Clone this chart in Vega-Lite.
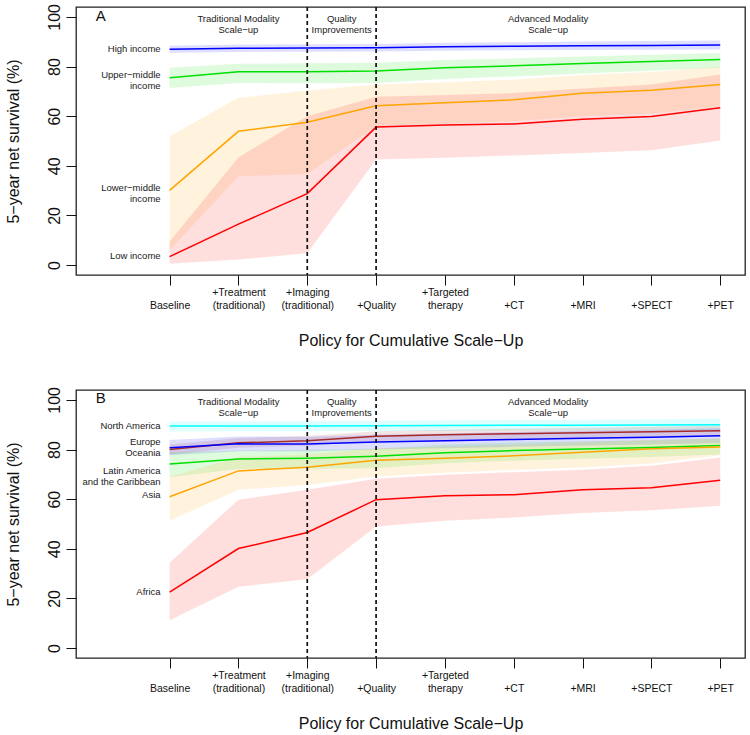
{
  "$schema": "https://vega.github.io/schema/vega-lite/v6.json",
  "padding": {"left": 4, "top": 2, "right": 3, "bottom": 5},
  "config": {
    "font": "Liberation Sans",
    "view": {"stroke": "#222222", "strokeWidth": 1.3},
    "axis": {"grid": false, "domain": false, "tickColor": "#111111", "labelColor": "#111111", "titleColor": "#111111", "titleFontWeight": "normal", "labelFont": "Liberation Sans", "titleFont": "Liberation Sans"}
  },
  "spacing": 115,
  "bounds": "flush",
  "resolve": {"scale": {"color": "independent", "x": "independent", "y": "independent"}},
  "datasets": {
    "bandA": [
      {"g": "High income", "x": 1, "y": 85.6, "y2": 88.4},
      {"g": "High income", "x": 2, "y": 85.9, "y2": 88.9},
      {"g": "High income", "x": 3, "y": 86.0, "y2": 89.0},
      {"g": "High income", "x": 4, "y": 86.1, "y2": 89.1},
      {"g": "High income", "x": 5, "y": 86.4, "y2": 89.6},
      {"g": "High income", "x": 6, "y": 86.6, "y2": 89.8},
      {"g": "High income", "x": 7, "y": 86.7, "y2": 90.1},
      {"g": "High income", "x": 8, "y": 86.8, "y2": 90.3},
      {"g": "High income", "x": 9, "y": 86.9, "y2": 90.5},
      {"g": "Upper-middle income", "x": 1, "y": 71.4, "y2": 79.5},
      {"g": "Upper-middle income", "x": 2, "y": 73.4, "y2": 81.1},
      {"g": "Upper-middle income", "x": 3, "y": 73.3, "y2": 81.3},
      {"g": "Upper-middle income", "x": 4, "y": 73.4, "y2": 81.5},
      {"g": "Upper-middle income", "x": 5, "y": 75.0, "y2": 82.6},
      {"g": "Upper-middle income", "x": 6, "y": 76.0, "y2": 83.3},
      {"g": "Upper-middle income", "x": 7, "y": 77.2, "y2": 84.1},
      {"g": "Upper-middle income", "x": 8, "y": 78.3, "y2": 84.8},
      {"g": "Upper-middle income", "x": 9, "y": 79.5, "y2": 85.5},
      {"g": "Lower-middle income", "x": 1, "y": 6.0, "y2": 51.9},
      {"g": "Lower-middle income", "x": 2, "y": 35.8, "y2": 67.4},
      {"g": "Lower-middle income", "x": 3, "y": 36.7, "y2": 70.4},
      {"g": "Lower-middle income", "x": 4, "y": 56.0, "y2": 72.8},
      {"g": "Lower-middle income", "x": 5, "y": 57.0, "y2": 73.7},
      {"g": "Lower-middle income", "x": 6, "y": 58.0, "y2": 74.7},
      {"g": "Lower-middle income", "x": 7, "y": 60.0, "y2": 76.6},
      {"g": "Lower-middle income", "x": 8, "y": 61.0, "y2": 77.8},
      {"g": "Lower-middle income", "x": 9, "y": 64.0, "y2": 79.9},
      {"g": "Low income", "x": 1, "y": 0.5, "y2": 9.5},
      {"g": "Low income", "x": 2, "y": 2.2, "y2": 43.4},
      {"g": "Low income", "x": 3, "y": 4.8, "y2": 60.0},
      {"g": "Low income", "x": 4, "y": 42.5, "y2": 67.8},
      {"g": "Low income", "x": 5, "y": 43.2, "y2": 68.5},
      {"g": "Low income", "x": 6, "y": 44.2, "y2": 69.3},
      {"g": "Low income", "x": 7, "y": 45.2, "y2": 71.2},
      {"g": "Low income", "x": 8, "y": 46.3, "y2": 72.8},
      {"g": "Low income", "x": 9, "y": 50.2, "y2": 76.8}
    ],
    "lineA": [
      {"g": "High income", "x": 1, "y": 87.0},
      {"g": "High income", "x": 2, "y": 87.4},
      {"g": "High income", "x": 3, "y": 87.5},
      {"g": "High income", "x": 4, "y": 87.6},
      {"g": "High income", "x": 5, "y": 88.0},
      {"g": "High income", "x": 6, "y": 88.2},
      {"g": "High income", "x": 7, "y": 88.4},
      {"g": "High income", "x": 8, "y": 88.5},
      {"g": "High income", "x": 9, "y": 88.7},
      {"g": "Upper-middle income", "x": 1, "y": 75.5},
      {"g": "Upper-middle income", "x": 2, "y": 77.9},
      {"g": "Upper-middle income", "x": 3, "y": 77.9},
      {"g": "Upper-middle income", "x": 4, "y": 78.2},
      {"g": "Upper-middle income", "x": 5, "y": 79.5},
      {"g": "Upper-middle income", "x": 6, "y": 80.3},
      {"g": "Upper-middle income", "x": 7, "y": 81.2},
      {"g": "Upper-middle income", "x": 8, "y": 82.0},
      {"g": "Upper-middle income", "x": 9, "y": 82.8},
      {"g": "Lower-middle income", "x": 1, "y": 30.1},
      {"g": "Lower-middle income", "x": 2, "y": 53.9},
      {"g": "Lower-middle income", "x": 3, "y": 57.6},
      {"g": "Lower-middle income", "x": 4, "y": 64.2},
      {"g": "Lower-middle income", "x": 5, "y": 65.4},
      {"g": "Lower-middle income", "x": 6, "y": 66.6},
      {"g": "Lower-middle income", "x": 7, "y": 69.2},
      {"g": "Lower-middle income", "x": 8, "y": 70.5},
      {"g": "Lower-middle income", "x": 9, "y": 72.8},
      {"g": "Low income", "x": 1, "y": 3.4},
      {"g": "Low income", "x": 2, "y": 16.5},
      {"g": "Low income", "x": 3, "y": 28.8},
      {"g": "Low income", "x": 4, "y": 55.6},
      {"g": "Low income", "x": 5, "y": 56.4},
      {"g": "Low income", "x": 6, "y": 56.9},
      {"g": "Low income", "x": 7, "y": 58.8},
      {"g": "Low income", "x": 8, "y": 59.9},
      {"g": "Low income", "x": 9, "y": 63.4}
    ],
    "bandB": [
      {"g": "North America", "x": 1, "y": 87.3, "y2": 91.3},
      {"g": "North America", "x": 2, "y": 87.4, "y2": 91.4},
      {"g": "North America", "x": 3, "y": 87.4, "y2": 91.5},
      {"g": "North America", "x": 4, "y": 87.5, "y2": 91.6},
      {"g": "North America", "x": 5, "y": 87.5, "y2": 91.8},
      {"g": "North America", "x": 6, "y": 87.6, "y2": 91.9},
      {"g": "North America", "x": 7, "y": 87.6, "y2": 92.0},
      {"g": "North America", "x": 8, "y": 87.7, "y2": 92.2},
      {"g": "North America", "x": 9, "y": 87.7, "y2": 92.4},
      {"g": "Europe", "x": 1, "y": 78.0, "y2": 82.0},
      {"g": "Europe", "x": 2, "y": 80.7, "y2": 84.7},
      {"g": "Europe", "x": 3, "y": 81.5, "y2": 85.5},
      {"g": "Europe", "x": 4, "y": 83.4, "y2": 87.4},
      {"g": "Europe", "x": 5, "y": 84.0, "y2": 88.0},
      {"g": "Europe", "x": 6, "y": 84.4, "y2": 88.4},
      {"g": "Europe", "x": 7, "y": 84.8, "y2": 88.8},
      {"g": "Europe", "x": 8, "y": 85.2, "y2": 89.2},
      {"g": "Europe", "x": 9, "y": 85.6, "y2": 89.6},
      {"g": "Oceania", "x": 1, "y": 77.7, "y2": 83.9},
      {"g": "Oceania", "x": 2, "y": 79.3, "y2": 85.3},
      {"g": "Oceania", "x": 3, "y": 79.2, "y2": 85.2},
      {"g": "Oceania", "x": 4, "y": 80.0, "y2": 86.0},
      {"g": "Oceania", "x": 5, "y": 80.5, "y2": 86.5},
      {"g": "Oceania", "x": 6, "y": 81.1, "y2": 87.1},
      {"g": "Oceania", "x": 7, "y": 81.6, "y2": 87.6},
      {"g": "Oceania", "x": 8, "y": 82.0, "y2": 88.0},
      {"g": "Oceania", "x": 9, "y": 82.6, "y2": 88.6},
      {"g": "Latin America", "x": 1, "y": 68.8, "y2": 78.9},
      {"g": "Latin America", "x": 2, "y": 72.2, "y2": 79.6},
      {"g": "Latin America", "x": 3, "y": 72.3, "y2": 79.9},
      {"g": "Latin America", "x": 4, "y": 72.5, "y2": 80.3},
      {"g": "Latin America", "x": 5, "y": 74.5, "y2": 82.0},
      {"g": "Latin America", "x": 6, "y": 75.5, "y2": 82.8},
      {"g": "Latin America", "x": 7, "y": 76.3, "y2": 83.3},
      {"g": "Latin America", "x": 8, "y": 77.0, "y2": 83.8},
      {"g": "Latin America", "x": 9, "y": 78.0, "y2": 84.5},
      {"g": "Asia", "x": 1, "y": 51.3, "y2": 69.0},
      {"g": "Asia", "x": 2, "y": 63.8, "y2": 77.0},
      {"g": "Asia", "x": 3, "y": 65.7, "y2": 78.0},
      {"g": "Asia", "x": 4, "y": 69.1, "y2": 80.5},
      {"g": "Asia", "x": 5, "y": 70.7, "y2": 81.2},
      {"g": "Asia", "x": 6, "y": 71.8, "y2": 82.0},
      {"g": "Asia", "x": 7, "y": 72.8, "y2": 83.0},
      {"g": "Asia", "x": 8, "y": 74.4, "y2": 84.0},
      {"g": "Asia", "x": 9, "y": 77.7, "y2": 84.6},
      {"g": "Africa", "x": 1, "y": 11.2, "y2": 34.4},
      {"g": "Africa", "x": 2, "y": 24.7, "y2": 59.8},
      {"g": "Africa", "x": 3, "y": 27.7, "y2": 63.8},
      {"g": "Africa", "x": 4, "y": 49.0, "y2": 68.2},
      {"g": "Africa", "x": 5, "y": 51.3, "y2": 69.8},
      {"g": "Africa", "x": 6, "y": 52.6, "y2": 70.9},
      {"g": "Africa", "x": 7, "y": 54.4, "y2": 71.9},
      {"g": "Africa", "x": 8, "y": 55.5, "y2": 73.5},
      {"g": "Africa", "x": 9, "y": 57.4, "y2": 76.8}
    ],
    "lineB": [
      {"g": "North America", "x": 1, "y": 89.5},
      {"g": "North America", "x": 2, "y": 89.5},
      {"g": "North America", "x": 3, "y": 89.5},
      {"g": "North America", "x": 4, "y": 89.6},
      {"g": "North America", "x": 5, "y": 89.7},
      {"g": "North America", "x": 6, "y": 89.8},
      {"g": "North America", "x": 7, "y": 89.8},
      {"g": "North America", "x": 8, "y": 89.9},
      {"g": "North America", "x": 9, "y": 90.0},
      {"g": "Europe", "x": 1, "y": 80.0},
      {"g": "Europe", "x": 2, "y": 82.7},
      {"g": "Europe", "x": 3, "y": 83.5},
      {"g": "Europe", "x": 4, "y": 85.4},
      {"g": "Europe", "x": 5, "y": 86.0},
      {"g": "Europe", "x": 6, "y": 86.4},
      {"g": "Europe", "x": 7, "y": 86.8},
      {"g": "Europe", "x": 8, "y": 87.2},
      {"g": "Europe", "x": 9, "y": 87.6},
      {"g": "Oceania", "x": 1, "y": 80.7},
      {"g": "Oceania", "x": 2, "y": 82.3},
      {"g": "Oceania", "x": 3, "y": 82.2},
      {"g": "Oceania", "x": 4, "y": 83.0},
      {"g": "Oceania", "x": 5, "y": 83.5},
      {"g": "Oceania", "x": 6, "y": 84.1},
      {"g": "Oceania", "x": 7, "y": 84.6},
      {"g": "Oceania", "x": 8, "y": 85.0},
      {"g": "Oceania", "x": 9, "y": 85.6},
      {"g": "Latin America", "x": 1, "y": 74.2},
      {"g": "Latin America", "x": 2, "y": 76.2},
      {"g": "Latin America", "x": 3, "y": 76.5},
      {"g": "Latin America", "x": 4, "y": 77.3},
      {"g": "Latin America", "x": 5, "y": 78.7},
      {"g": "Latin America", "x": 6, "y": 79.6},
      {"g": "Latin America", "x": 7, "y": 80.2},
      {"g": "Latin America", "x": 8, "y": 80.8},
      {"g": "Latin America", "x": 9, "y": 81.6},
      {"g": "Asia", "x": 1, "y": 61.0},
      {"g": "Asia", "x": 2, "y": 71.4},
      {"g": "Asia", "x": 3, "y": 72.9},
      {"g": "Asia", "x": 4, "y": 75.7},
      {"g": "Asia", "x": 5, "y": 76.5},
      {"g": "Asia", "x": 6, "y": 77.5},
      {"g": "Asia", "x": 7, "y": 78.9},
      {"g": "Asia", "x": 8, "y": 80.3},
      {"g": "Asia", "x": 9, "y": 81.0},
      {"g": "Africa", "x": 1, "y": 22.5},
      {"g": "Africa", "x": 2, "y": 40.1},
      {"g": "Africa", "x": 3, "y": 46.6},
      {"g": "Africa", "x": 4, "y": 59.8},
      {"g": "Africa", "x": 5, "y": 61.4},
      {"g": "Africa", "x": 6, "y": 61.8},
      {"g": "Africa", "x": 7, "y": 63.8},
      {"g": "Africa", "x": 8, "y": 64.6},
      {"g": "Africa", "x": 9, "y": 67.6}
    ],
    "labA": [
      {"x": 1, "y": 87.0, "t": "High income"},
      {"x": 1, "y": 76.6, "t": "Upper−middle\nincome"},
      {"x": 1, "y": 31.2, "t": "Lower−middle\nincome"},
      {"x": 1, "y": 3.8, "t": "Low income"}
    ],
    "labB": [
      {"x": 1, "y": 89.3, "t": "North America"},
      {"x": 1, "y": 83.2, "t": "Europe"},
      {"x": 1, "y": 78.8, "t": "Oceania"},
      {"x": 1, "y": 71.4, "t": "Latin America\nand the Caribbean"},
      {"x": 1, "y": 61.6, "t": "Asia"},
      {"x": 1, "y": 22.5, "t": "Africa"}
    ],
    "sections": [
      {"x": 2, "y": 99, "t": "Traditional Modality\nScale−up"},
      {"x": 3.5, "y": 99, "t": "Quality\nImprovements"},
      {"x": 6.5, "y": 99, "t": "Advanced Modality\nScale−up"}
    ],
    "dash": [{"x": 3}, {"x": 4}],
    "letA": [{"x": 0, "y": 100.4, "t": "A"}],
    "letB": [{"x": 0, "y": 100.8, "t": "B"}]
  },
  "vconcat": [
    {
      "width": 669,
      "height": 268,
      "encoding": {
        "x": {"field": "x", "type": "quantitative", "scale": {"domain": [-0.36, 9.36], "nice": false, "zero": false},
          "axis": {"values": [1, 2, 3, 4, 5, 6, 7, 8, 9], "title": "Policy for Cumulative Scale−Up", "titleFontSize": 16, "titlePadding": 22, "tickSize": 10, "labelPadding": 2, "labelFontSize": 10.5, "labelLineHeight": 13, "labelBaseline": "top", "labelAlign": "center", "labelOverlap": false, "labelFlush": false, "labelBound": false,
            "labelExpr": "[['','Baseline'],['+Treatment','(traditional)'],['+Imaging','(traditional)'],['','+Quality'],['+Targeted','therapy'],['','+CT'],['','+MRI'],['','+SPECT'],['','+PET']][datum.value-1]"}},
        "y": {"field": "y", "type": "quantitative", "scale": {"domain": [-4, 104], "nice": false, "zero": false},
          "axis": {"values": [0, 20, 40, 60, 80, 100], "title": "5−year net survival (%)", "titleFontSize": 16, "titlePadding": 25, "tickSize": 10, "labelAngle": -90, "labelAlign": "center", "labelBaseline": "middle", "labelPadding": 12, "labelFontSize": 16, "labelFlush": false}}
      },
      "layer": [
        {
          "data": {"name": "bandA"},
          "mark": {"type": "area", "opacity": 0.13},
          "encoding": {
            "y2": {"field": "y2"},
            "color": {"field": "g", "type": "nominal", "scale": {"domain": ["High income", "Upper-middle income", "Lower-middle income", "Low income"], "range": ["#0000FF", "#00E000", "#FFA500", "#FF0000"]}, "legend": null}
          }
        },
        {
          "data": {"name": "lineA"},
          "mark": {"type": "line", "strokeWidth": 1.5},
          "encoding": {"color": {"field": "g", "type": "nominal", "legend": null}}
        },
        {
          "data": {"name": "dash"},
          "mark": {"type": "rule", "color": "#111111", "strokeWidth": 1.7, "strokeDash": [4, 3]},
          "encoding": {"y": null}
        },
        {
          "data": {"name": "labA"},
          "mark": {"type": "text", "align": "right", "baseline": "middle", "dx": -9, "fontSize": 9.5, "lineHeight": 11.5, "lineBreak": "\n", "color": "#1a1a1a"},
          "encoding": {"text": {"field": "t"}}
        },
        {
          "data": {"name": "sections"},
          "mark": {"type": "text", "align": "center", "baseline": "middle", "fontSize": 9.5, "lineHeight": 11, "lineBreak": "\n", "color": "#1a1a1a"},
          "encoding": {"text": {"field": "t"}}
        },
        {
          "data": {"name": "letA"},
          "mark": {"type": "text", "align": "center", "baseline": "middle", "fontSize": 15, "color": "#111111"},
          "encoding": {"text": {"field": "t"}}
        }
      ]
    },
    {
      "width": 669,
      "height": 268,
      "encoding": {
        "x": {"field": "x", "type": "quantitative", "scale": {"domain": [-0.36, 9.36], "nice": false, "zero": false},
          "axis": {"values": [1, 2, 3, 4, 5, 6, 7, 8, 9], "title": "Policy for Cumulative Scale−Up", "titleFontSize": 16, "titlePadding": 22, "tickSize": 10, "labelPadding": 2, "labelFontSize": 10.5, "labelLineHeight": 13, "labelBaseline": "top", "labelAlign": "center", "labelOverlap": false, "labelFlush": false, "labelBound": false,
            "labelExpr": "[['','Baseline'],['+Treatment','(traditional)'],['+Imaging','(traditional)'],['','+Quality'],['+Targeted','therapy'],['','+CT'],['','+MRI'],['','+SPECT'],['','+PET']][datum.value-1]"}},
        "y": {"field": "y", "type": "quantitative", "scale": {"domain": [-4, 104], "nice": false, "zero": false},
          "axis": {"values": [0, 20, 40, 60, 80, 100], "title": "5−year net survival (%)", "titleFontSize": 16, "titlePadding": 25, "tickSize": 10, "labelAngle": -90, "labelAlign": "center", "labelBaseline": "middle", "labelPadding": 12, "labelFontSize": 16, "labelFlush": false}}
      },
      "layer": [
        {
          "data": {"name": "bandB"},
          "mark": {"type": "area", "opacity": 0.13},
          "encoding": {
            "y2": {"field": "y2"},
            "color": {"field": "g", "type": "nominal", "scale": {"domain": ["North America", "Europe", "Oceania", "Latin America", "Asia", "Africa"], "range": ["#00FFFF", "#A52A2A", "#0000FF", "#00E000", "#FFA500", "#FF0000"]}, "legend": null}
          }
        },
        {
          "data": {"name": "lineB"},
          "mark": {"type": "line", "strokeWidth": 1.5},
          "encoding": {"color": {"field": "g", "type": "nominal", "legend": null}}
        },
        {
          "data": {"name": "dash"},
          "mark": {"type": "rule", "color": "#111111", "strokeWidth": 1.7, "strokeDash": [4, 3]},
          "encoding": {"y": null}
        },
        {
          "data": {"name": "labB"},
          "mark": {"type": "text", "align": "right", "baseline": "middle", "dx": -9, "fontSize": 9.5, "lineHeight": 11.5, "lineBreak": "\n", "color": "#1a1a1a"},
          "encoding": {"text": {"field": "t"}}
        },
        {
          "data": {"name": "sections"},
          "mark": {"type": "text", "align": "center", "baseline": "middle", "fontSize": 9.5, "lineHeight": 11, "lineBreak": "\n", "color": "#1a1a1a"},
          "encoding": {"text": {"field": "t"}}
        },
        {
          "data": {"name": "letB"},
          "mark": {"type": "text", "align": "center", "baseline": "middle", "fontSize": 15, "color": "#111111"},
          "encoding": {"text": {"field": "t"}}
        }
      ]
    }
  ]
}
